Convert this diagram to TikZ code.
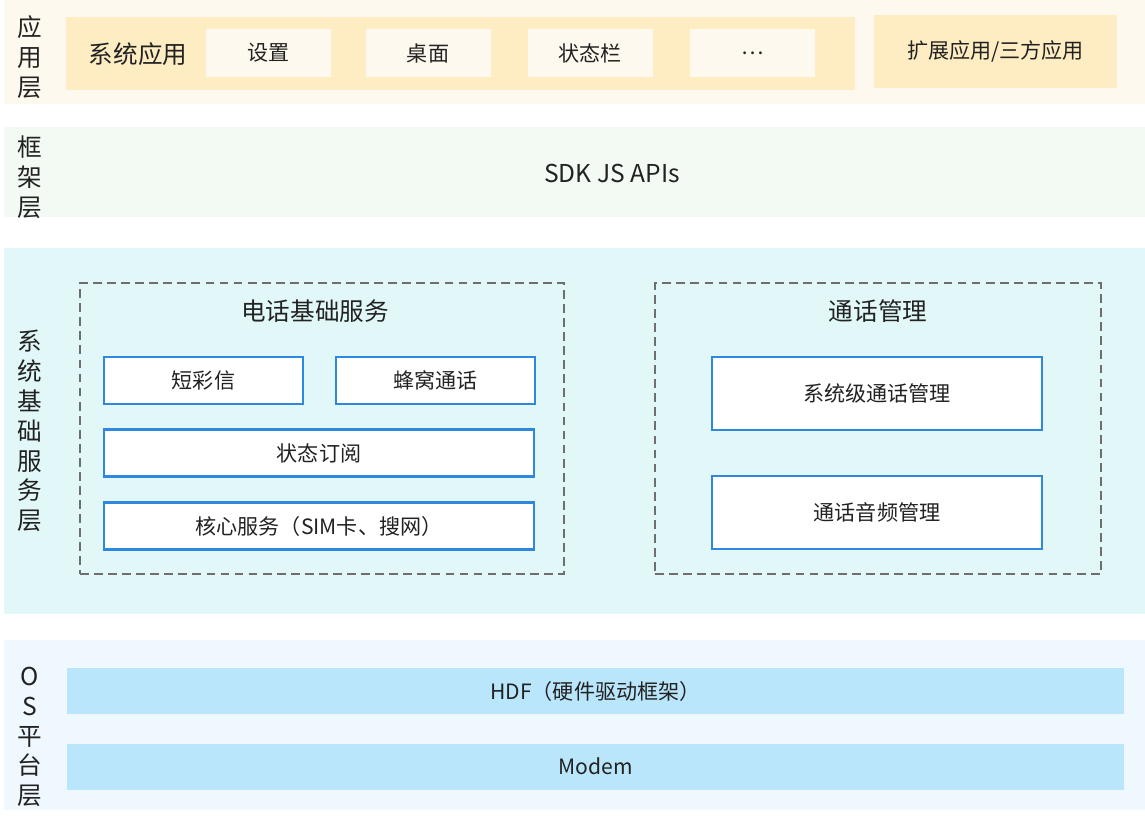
\documentclass[tikz,border=0pt]{standalone}
\usepackage{fontspec}
\setmainfont{Noto Sans CJK SC}
\definecolor{appbg}{HTML}{FEF9EE}
\definecolor{appfill}{HTML}{FEEDC3}
\definecolor{fwbg}{HTML}{F3FAF4}
\definecolor{sysbg}{HTML}{E1F7F8}
\definecolor{osbg}{HTML}{EFF8FE}
\definecolor{osfill}{HTML}{BAE6FB}
\definecolor{svcblue}{HTML}{2F88DF}
\definecolor{dashgray}{HTML}{6E6E6E}
\definecolor{txt}{HTML}{222222}
\usetikzlibrary{positioning}

\tikzset{
  layerbg/.style={inner sep=0pt, minimum width=22.82cm},
  layername/.style={align=center, font=\fontsize{14}{17}\selectfont, text=txt},
  appsub/.style={fill=appbg, inner sep=0pt, minimum width=2.5cm, minimum height=0.96cm, font=\fontsize{12}{14}\selectfont, text=txt},
  svcbox/.style={draw=svcblue, line width=1.2pt, fill=white, inner sep=0pt, font=\fontsize{12}{14}\selectfont, text=txt},
  dashbox/.style={draw=dashgray, dash pattern=on 5pt off 3pt, line width=0.9pt, inner sep=0pt},
  osbox/.style={fill=osfill, inner sep=0pt, minimum width=21.14cm, minimum height=0.92cm, font=\fontsize{12}{14}\selectfont, text=txt},
  grouptitle/.style={font=\fontsize{14}{17}\selectfont, text=txt}
}

\begin{document}
\begin{tikzpicture}
  \useasboundingbox (0,0) rectangle (22.9,-16.52);
  % Application layer
  \node[layerbg, fill=appbg, minimum height=2.08cm] (appbg) at (11.49,-1.04) {};
  \node[layername] (applabel) at (0.6,-1.14) {应\\用\\层};
  \node[fill=appfill, inner sep=0pt, minimum width=15.78cm, minimum height=1.46cm] (sysapp) at (9.21,-1.07) {};
  \node[grouptitle] (sysapptext) at (2.76,-1.08) {系统应用};
  \node[appsub] (settings) at (5.37,-1.06) {设置};
  \node[appsub] (desktop) at (8.56,-1.06) {桌面};
  \node[appsub] (statusbar) at (11.8,-1.06) {状态栏};
  \node[appsub] (more) at (15.05,-1.06) {\dots};
  \node[fill=appfill, inner sep=0pt, minimum width=4.86cm, minimum height=1.46cm, font=\fontsize{12}{14}\selectfont, text=txt] (extapp) at (19.91,-1.03) {扩展应用/三方应用};
  % Framework layer
  \node[layerbg, fill=fwbg, minimum height=1.8cm] (fwbg) at (11.49,-3.44) {};
  \node[layername] (fwlabel) at (0.6,-3.54) {框\\架\\层};
  \node[grouptitle] (sdk) at (12.24,-3.46) {SDK JS APIs};
  % System service layer
  \node[layerbg, fill=sysbg, minimum height=7.32cm] (sysbg) at (11.49,-8.62) {};
  \node[layername] (syslabel) at (0.6,-8.62) {系\\统\\基\\础\\服\\务\\层};
  \node[dashbox, minimum width=9.68cm, minimum height=5.82cm] (telbase) at (6.44,-8.57) {};
  \node[grouptitle] (telbasetitle) at (6.3,-6.22) {电话基础服务};
  \node[svcbox, minimum width=3.98cm, minimum height=0.94cm] (sms) at (4.07,-7.61) {短彩信};
  \node[svcbox, minimum width=3.98cm, minimum height=0.94cm] (cellcall) at (8.71,-7.61) {蜂窝通话};
  \node[svcbox, minimum width=8.6cm, minimum height=0.94cm] (statesub) at (6.38,-9.06) {状态订阅};
  \node[svcbox, minimum width=8.6cm, minimum height=0.94cm] (coresvc) at (6.38,-10.52) {核心服务（SIM卡、搜网）};
  \node[dashbox, minimum width=8.92cm, minimum height=5.82cm] (callmgr) at (17.56,-8.57) {};
  \node[grouptitle] (callmgrtitle) at (17.56,-6.22) {通话管理};
  \node[svcbox, minimum width=6.6cm, minimum height=1.46cm] (syscall) at (17.54,-7.87) {系统级通话管理};
  \node[svcbox, minimum width=6.6cm, minimum height=1.46cm] (callaudio) at (17.54,-10.25) {通话音频管理};
  % OS layer
  \node[layerbg, fill=osbg, minimum height=3.4cm] (osbg) at (11.49,-14.5) {};
  \node[layername] (oslabel) at (0.6,-14.74) {O\\S\\平\\台\\层};
  \node[osbox] (hdf) at (11.91,-13.82) {HDF（硬件驱动框架）};
  \node[osbox] (modem) at (11.91,-15.33) {Modem};
\end{tikzpicture}
\end{document}
